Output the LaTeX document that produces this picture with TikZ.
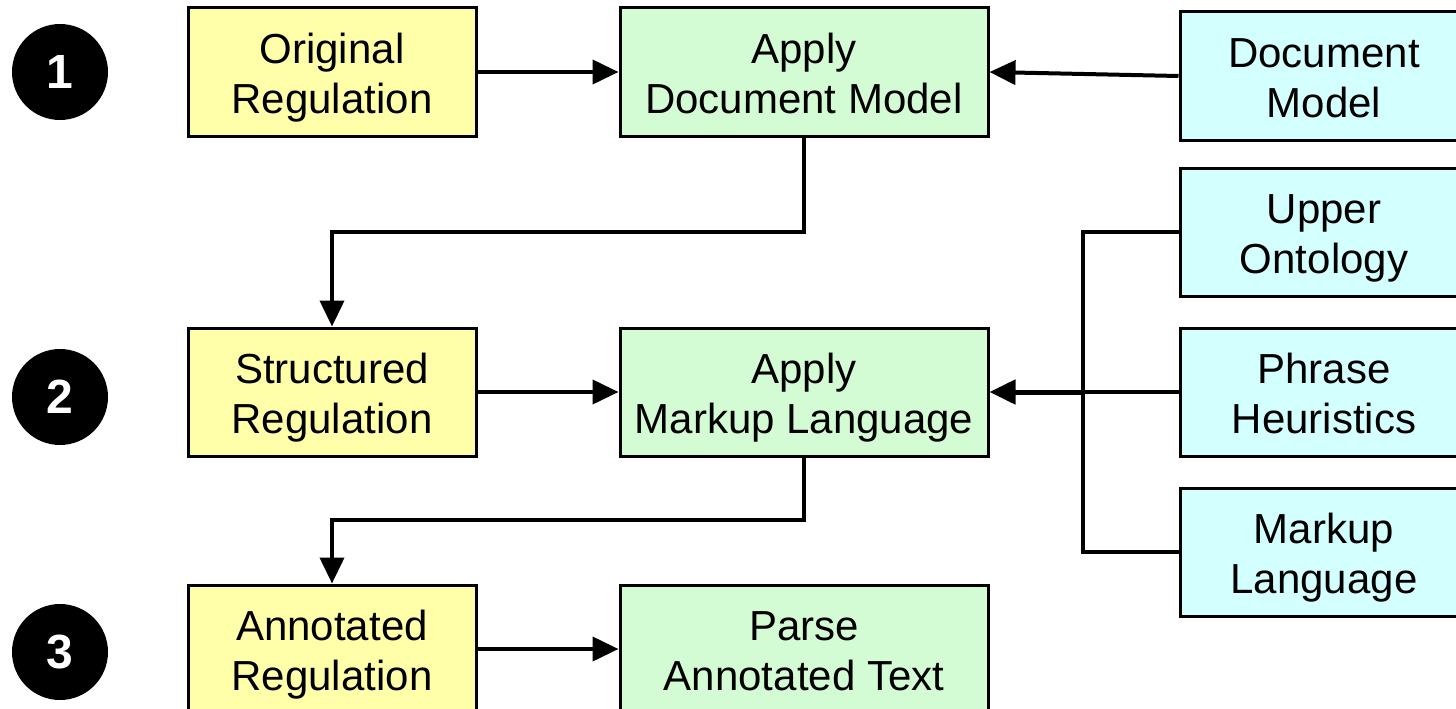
\documentclass[tikz,border=0pt]{standalone}
\usepackage{fontspec}
\setmainfont{Liberation Sans}
\usetikzlibrary{arrows.meta}
\definecolor{inyellow}{RGB}{255,255,170}
\definecolor{opgreen}{RGB}{212,252,212}
\definecolor{srccyan}{RGB}{212,255,255}
\tikzset{
  box/.style={draw=black, line width=3pt, minimum height=128pt, inner sep=0pt,
    align=center, font=\fontsize{42}{50}\selectfont,
    % fixed text box so every two-line label sits at the same height
    text height=90pt, text depth=8pt},
  inbox/.style={box, fill=inyellow, minimum width=288pt},
  opbox/.style={box, fill=opgreen, minimum width=368pt},
  srcbox/.style={box, fill=srccyan, minimum width=288pt},
  badge/.style={circle, fill=black, minimum size=96pt, inner sep=0pt,
    text=white, font=\fontsize{48}{48}\selectfont\bfseries},
  link/.style={line width=4pt, line join=miter},
  arr/.style={link, -{Triangle[length=26pt,width=24pt]}},
}
\begin{document}
\begin{tikzpicture}[x=1pt,y=-1pt]
  \useasboundingbox (0,0) rectangle (1456,709);
  \clip (0,0) rectangle (1456,709);

  % step badges
  \node[badge] (b1) at (60,72) {1};
  \node[badge] (b2) at (60,397) {2};
  \node[badge] (b3) at (60,652) {3};

  % documents
  \node[inbox] (orig) at (332,72) {Original\\Regulation};
  \node[inbox] (struct) at (332,392) {Structured\\Regulation};
  \node[inbox] (annot) at (332,649) {Annotated\\Regulation};

  % operations
  \node[opbox] (applydm) at (804,72) {Apply\\Document Model};
  \node[opbox] (applyml) at (804,392) {Apply\\Markup Language};
  \node[opbox] (parse) at (804,649) {Parse\\Annotated Text};

  % knowledge sources
  \node[srcbox] (docmodel) at (1324,76) {Document\\Model};
  \node[srcbox] (upper) at (1324,232) {Upper\\Ontology};
  \node[srcbox] (phrase) at (1324,392) {Phrase\\Heuristics};
  \node[srcbox] (markup) at (1324,552) {Markup\\Language};

  % routing points
  \coordinate (row1) at (0,232);
  \coordinate (row2) at (0,520);
  \coordinate (bus) at (1083,0);

  % flow within each row
  \draw[arr] (orig.east) -- (applydm.west);
  \draw[arr] (docmodel.west) -- (applydm.east);
  \draw[arr] (struct.east) -- (applyml.west);
  \draw[arr] (annot.east) -- (parse.west);

  % flow between rows
  \draw[arr] (applydm.south) -- (applydm.south |- row1) -| (struct.north);
  \draw[arr] (applyml.south) -- (applyml.south |- row2) -| (annot.north);

  % sources feeding the markup step
  \draw[link] (upper.west) -| (bus |- markup.west) -- (markup.west);
  \draw[link] (phrase.west) -- (bus |- phrase.west);
  \draw[arr, line width=5pt] (bus |- phrase.west) -- (applyml.east);
\end{tikzpicture}
\end{document}
